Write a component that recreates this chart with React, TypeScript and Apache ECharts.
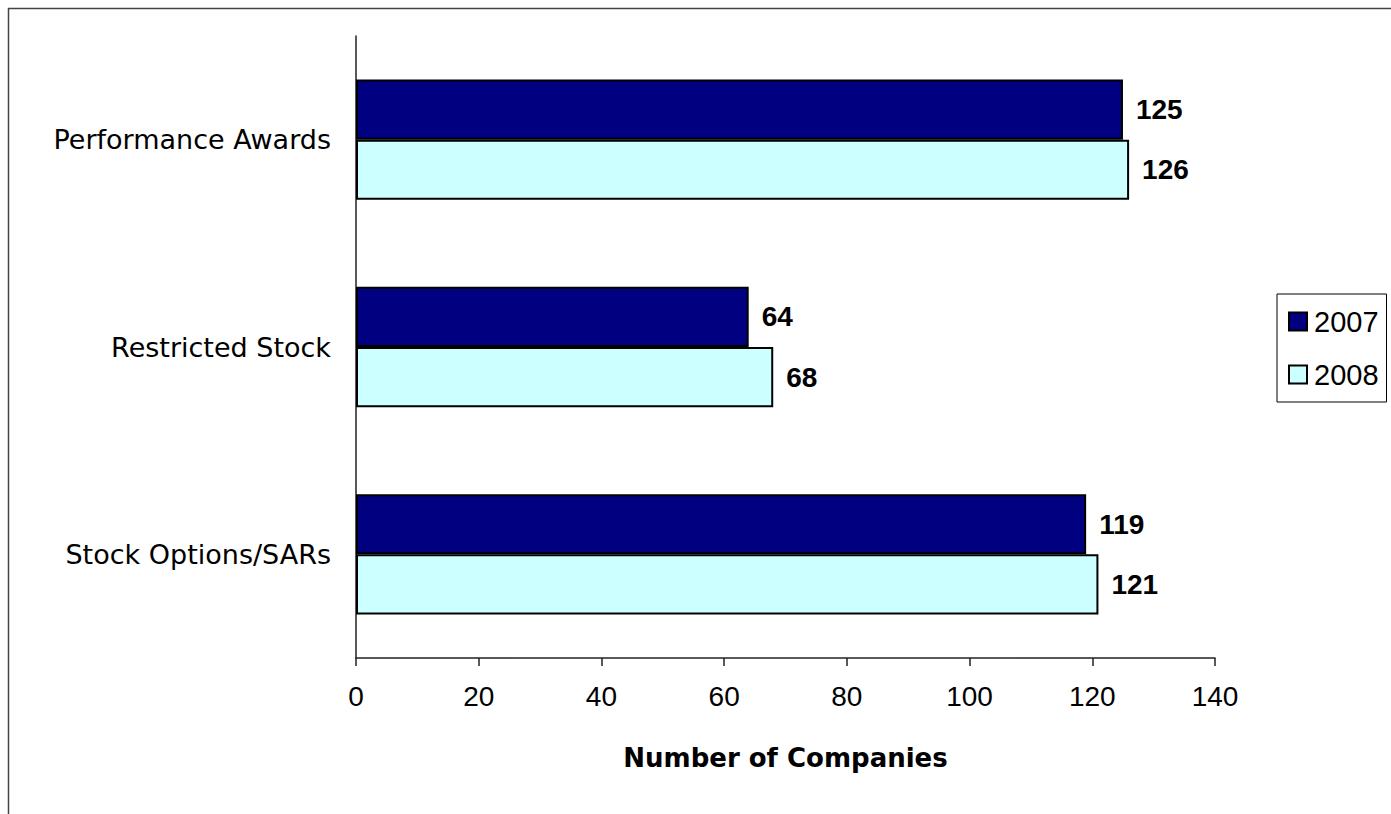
import React, { useEffect, useRef } from "react";
import * as echarts from "echarts";

const categories = ["Performance Awards", "Restricted Stock", "Stock Options/SARs"];
const values2007 = [125, 64, 119];
const values2008 = [126, 68, 121];
const seriesNames = ["2007", "2008"];
const xTicks = { min: 0, max: 140, interval: 20 };

const FONT = "'Liberation Sans', Arial, sans-serif";
const WIDE = "'DejaVu Sans', 'Liberation Sans', Arial, sans-serif";

export default function App() {
  const ref = useRef<HTMLDivElement>(null);
  useEffect(() => {
    if (!ref.current) return;
    const chart = echarts.init(ref.current, null, { renderer: "svg" });
    const labelCfg = {
      show: true,
      position: "right",
      distance: 13,
      fontFamily: FONT,
      fontSize: 28,
      fontWeight: "bold",
      color: "#000",
    };
    chart.setOption({
      animation: false,
      backgroundColor: "#fff",
      textStyle: { fontFamily: FONT },
      graphic: [
        {
          type: "rect",
          shape: { x: 8.5, y: 8.5, width: 3000, height: 3000 },
          style: { fill: "none", stroke: "#444", lineWidth: 1.5 },
          silent: true,
          z: -10,
        },
      ],
      grid: { left: 356, top: 36, right: 176, bottom: 156, containLabel: false },
      legend: {
        orient: "vertical",
        left: 1277,
        top: 294,
        padding: [13, 8, 13, 11],
        itemGap: 24,
        itemWidth: 18,
        itemHeight: 18,
        borderColor: "#000",
        borderWidth: 1,
        backgroundColor: "#fff",
        icon: "rect",
        textStyle: { fontFamily: FONT, fontSize: 29, color: "#000", padding: [0, 0, 0, 2] },
        data: seriesNames,
      },
      xAxis: {
        type: "value",
        min: xTicks.min,
        max: xTicks.max,
        interval: xTicks.interval,
        name: "Number of Companies",
        nameLocation: "middle",
        nameGap: 87,
        nameTextStyle: { fontFamily: WIDE, fontSize: 26, fontWeight: "bold", color: "#000" },
        axisLine: { show: true, lineStyle: { color: "#222", width: 1.5 } },
        axisTick: { show: true, length: 8, lineStyle: { color: "#222", width: 1.5 } },
        axisLabel: { fontFamily: FONT, fontSize: 28, color: "#000", margin: 24 },
        splitLine: { show: false },
      },
      yAxis: {
        type: "category",
        data: categories,
        inverse: true,
        axisLine: { show: true, lineStyle: { color: "#222", width: 1.5 } },
        axisTick: { show: false },
        axisLabel: { fontFamily: WIDE, fontSize: 27, color: "#000", margin: 25 },
      },
      series: [
        {
          name: seriesNames[0],
          type: "bar",
          data: values2007,
          barGap: "0%",
          barCategoryGap: "42%",
          itemStyle: { color: "#000080", borderColor: "#000", borderWidth: 2 },
          label: labelCfg,
        },
        {
          name: seriesNames[1],
          type: "bar",
          data: values2008,
          barGap: "0%",
          barCategoryGap: "42%",
          itemStyle: { color: "#CCFFFF", borderColor: "#000", borderWidth: 2 },
          label: labelCfg,
        },
      ],
    });
    return () => chart.dispose();
  }, []);
  return (
    <div
      ref={ref}
      style={{ position: "fixed", left: 0, top: 0, width: 1391, height: 814 }}
    />
  );
}
